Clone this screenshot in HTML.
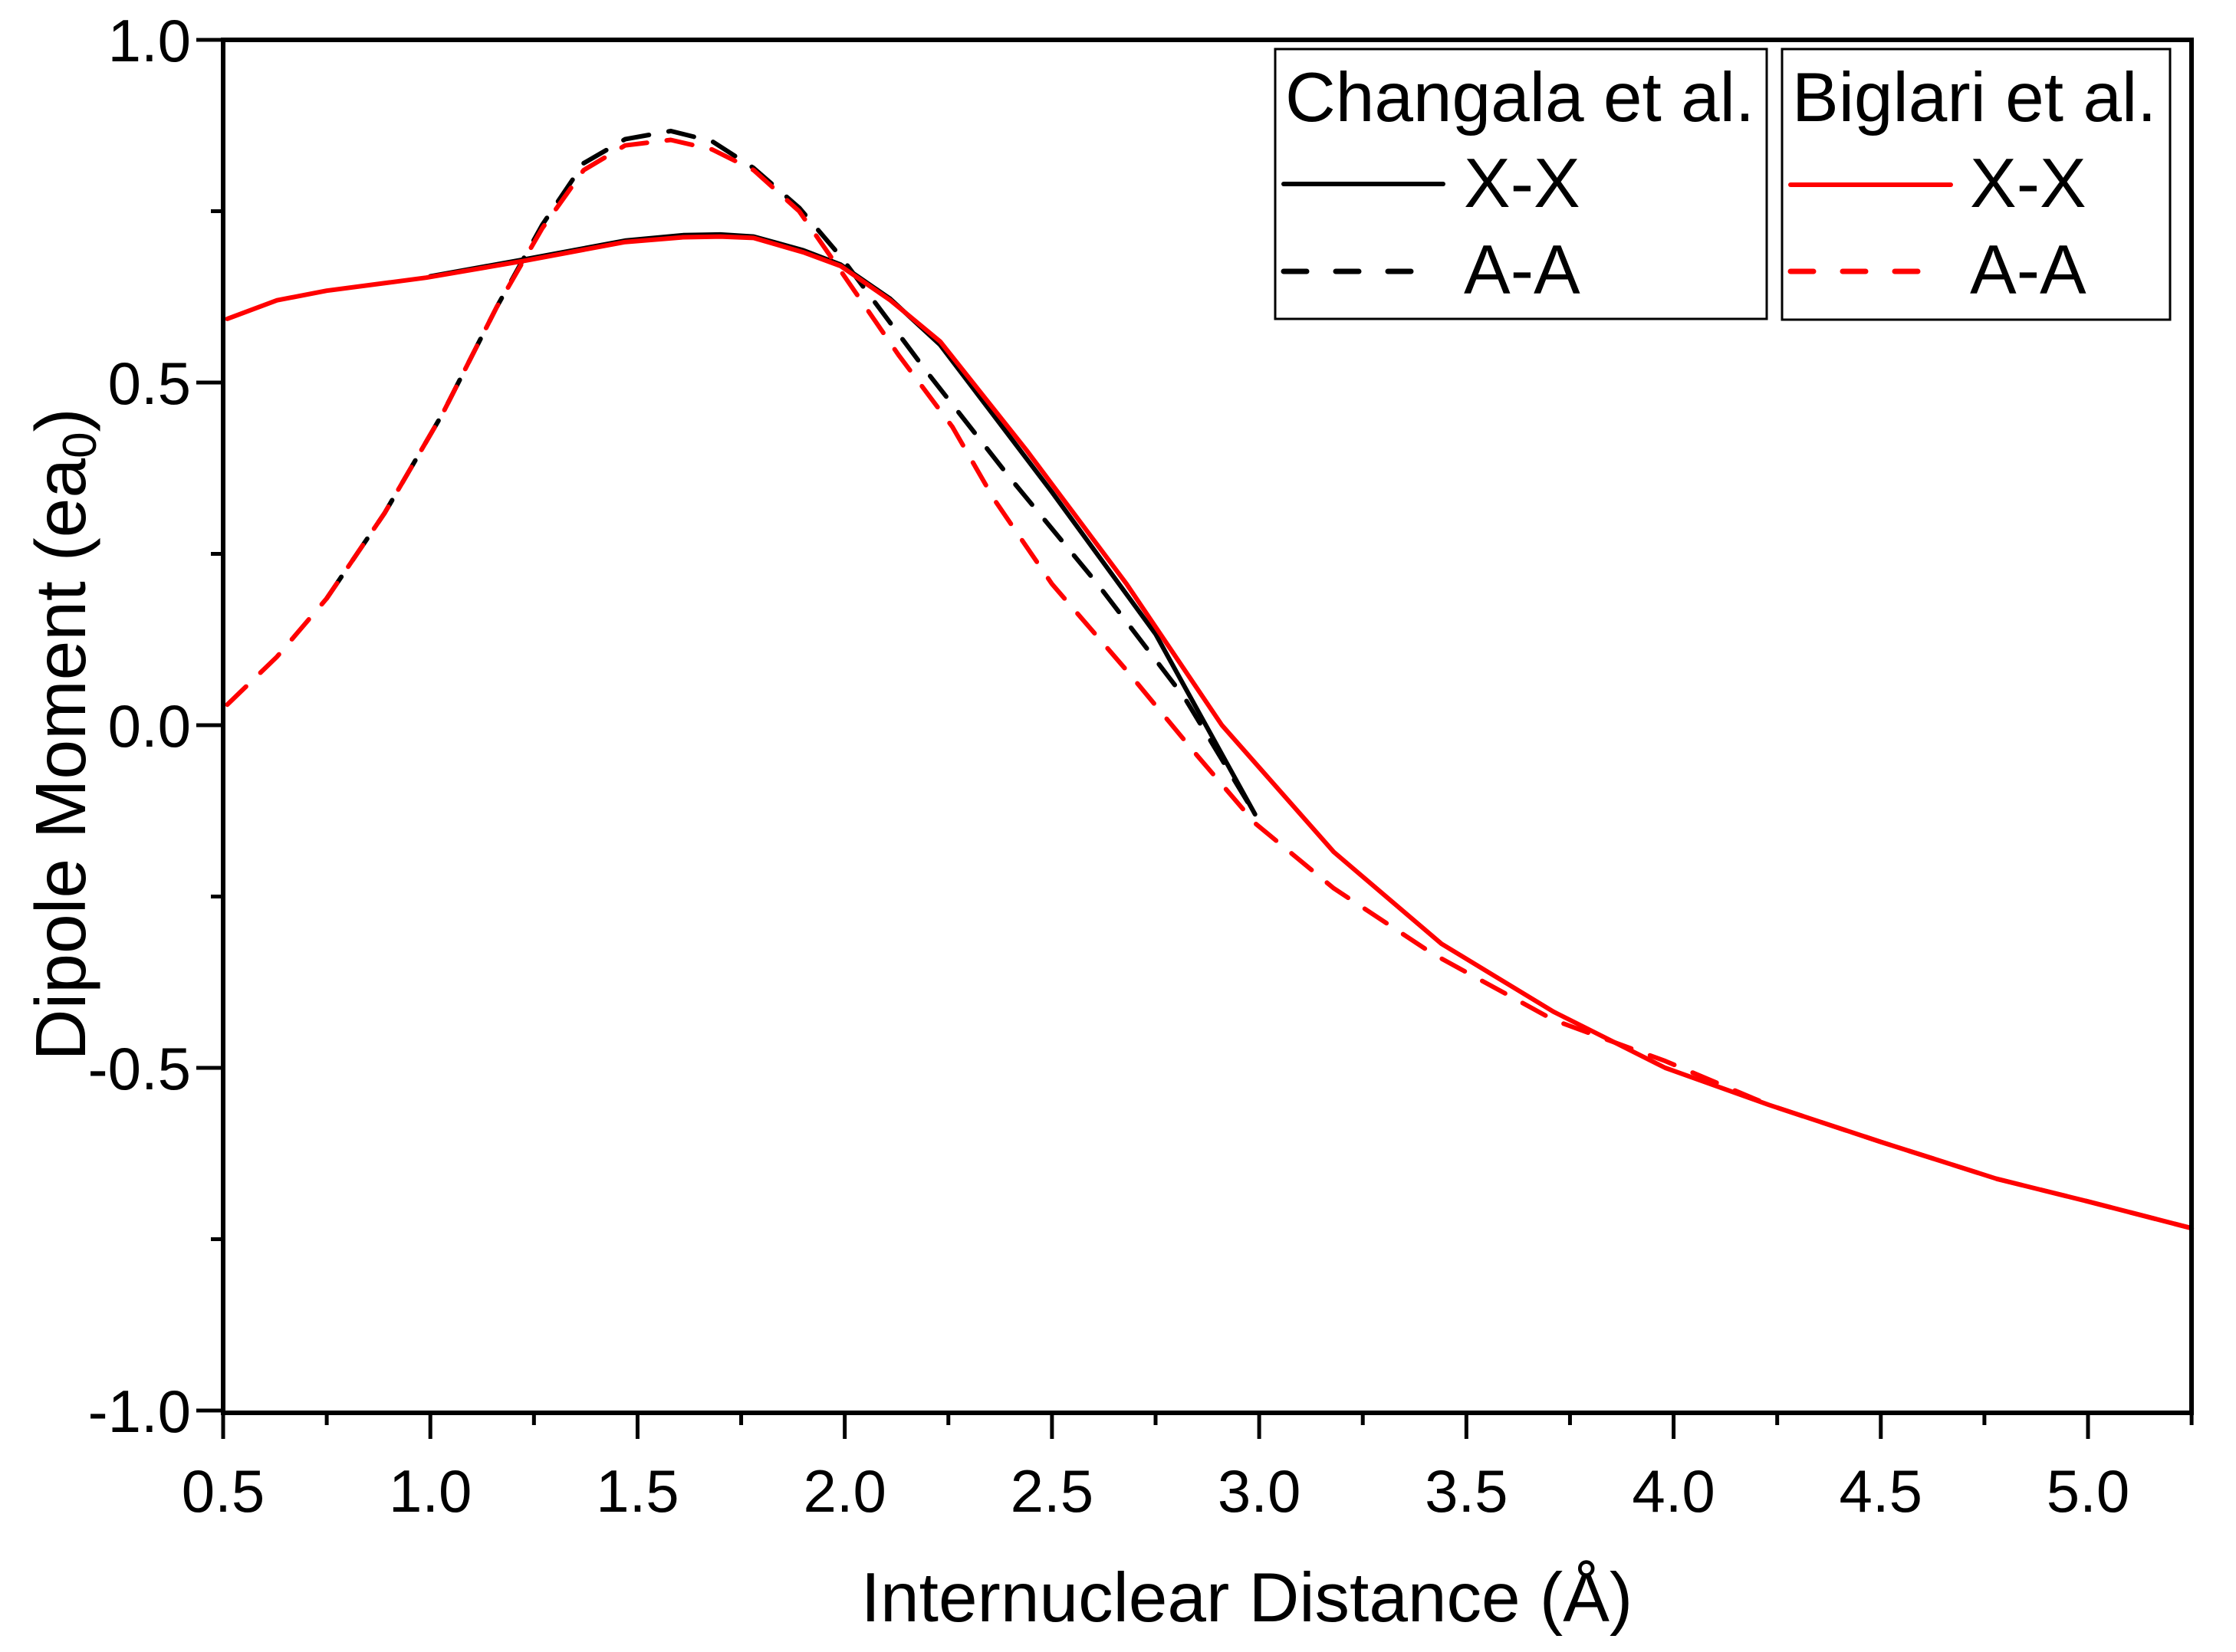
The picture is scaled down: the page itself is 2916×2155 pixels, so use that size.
<!DOCTYPE html>
<html><head><meta charset="utf-8"><style>
html,body{margin:0;padding:0;background:#fff;}
svg{display:block;font-family:"Liberation Sans",Arial,sans-serif;}
</style></head><body>
<svg id="chart" width="2916" height="2155" viewBox="0 0 2916 2155" xmlns="http://www.w3.org/2000/svg">
<g id="plot"></g>
<g id="axes"></g>
<text x="1626" y="2115" font-size="91" text-anchor="middle">Internuclear Distance (Å)</text>
<text transform="translate(111,958) rotate(-90)" font-size="93" text-anchor="middle">Dipole Moment (ea<tspan font-size="62" dy="14">0</tspan><tspan dy="-14">)</tspan></text>
<g>
<rect x="1663" y="64" width="641" height="352" fill="#fff" stroke="#000" stroke-width="3"/>
<text x="1676" y="158" font-size="91">Changala et al.</text>
<line x1="1674" y1="240" x2="1882" y2="240" stroke="#000" stroke-width="6" stroke-linecap="round"/>
<text x="1909" y="270" font-size="91">X-X</text>
<line x1="1674" y1="354" x2="1850" y2="354" stroke="#000" stroke-width="7" stroke-dasharray="30 38" stroke-linecap="round"/>
<text x="1909" y="383" font-size="91">A-A</text>
</g>
<g>
<rect x="2324" y="64" width="506" height="353" fill="#fff" stroke="#000" stroke-width="3"/>
<text x="2337" y="158" font-size="91">Biglari et al.</text>
<line x1="2335" y1="241" x2="2544" y2="241" stroke="#ff0000" stroke-width="6" stroke-linecap="round"/>
<text x="2569" y="270" font-size="91">X-X</text>
<line x1="2335" y1="354" x2="2511" y2="354" stroke="#ff0000" stroke-width="7" stroke-dasharray="30 38" stroke-linecap="round"/>
<text x="2569" y="383" font-size="91">A-A</text>
</g>
</svg>
<script>
const xTicks = [0.5,1.0,1.5,2.0,2.5,3.0,3.5,4.0,4.5,5.0];
const yTicks = [-1.0,-0.5,0.0,0.5,1.0];
const bigXX_x = [0.51,0.63,0.75,0.99,1.23,1.47,1.61,1.70,1.78,1.90,1.99,2.11,2.23,2.44,2.68,2.91,3.18,3.44,3.71,3.98,4.23,4.50,4.78,5.0,5.25];
const bigXX_y = [0.593,0.62,0.634,0.653,0.678,0.705,0.712,0.713,0.711,0.69,0.67,0.62,0.56,0.40,0.206,0.0,-0.185,-0.319,-0.418,-0.50,-0.554,-0.608,-0.662,-0.695,-0.734];
const bigAA_x = [0.51,0.63,0.75,0.89,1.03,1.16,1.27,1.37,1.47,1.58,1.68,1.78,1.89,1.99,2.13,2.26,2.36,2.50,2.68,2.85,2.99,3.18,3.42,3.71,3.98,4.23,4.50,4.78,5.0,5.25];
const bigAA_y = [0.03,0.10,0.185,0.31,0.455,0.61,0.725,0.81,0.846,0.854,0.84,0.81,0.75,0.663,0.54,0.435,0.33,0.206,0.08,-0.044,-0.143,-0.238,-0.334,-0.43,-0.49,-0.554,-0.608,-0.662,-0.695,-0.734];
const chgXX_x = [1.0,1.23,1.47,1.61,1.70,1.78,1.90,1.99,2.11,2.23,2.50,2.75,2.99];
const chgXX_y = [0.655,0.68,0.707,0.715,0.716,0.713,0.693,0.672,0.622,0.555,0.34,0.133,-0.13];
const chgAA_x = [0.75,0.89,1.03,1.16,1.27,1.37,1.47,1.58,1.68,1.78,1.89,1.99,2.20,2.40,2.61,2.82,2.99];
const chgAA_y = [0.185,0.31,0.455,0.61,0.73,0.82,0.855,0.867,0.852,0.813,0.755,0.684,0.514,0.36,0.206,0.04,-0.13];

const X0=291, X1=2858, Y0=52, Y1=1843;
function sx(v){return X0+(v-0.5)*(2723-291)/4.5;}
function sy(v){return 946-v*(946-52);}
const NS="http://www.w3.org/2000/svg";
const plot=document.getElementById('plot'), axes=document.getElementById('axes');
function mk(tag,attrs,parent){const e=document.createElementNS(NS,tag);for(const k in attrs)e.setAttribute(k,attrs[k]);parent.appendChild(e);return e;}

function series(xs,ys,color,dash,name){
  let d='';
  for(let i=0;i<xs.length;i++){d+=(i?'L':'M')+sx(xs[i]).toFixed(1)+','+sy(ys[i]).toFixed(1);}
  const p=mk('path',{d:d,fill:'none',stroke:color,'stroke-width':6,'stroke-linejoin':'round','stroke-linecap':'round'},plot);
  if(dash)p.setAttribute('stroke-dasharray','34 26');
  
  
}
series(chgXX_x,chgXX_y,'#000',false,'changala-xx-line');
series(chgAA_x,chgAA_y,'#000',true,'changala-aa-line');
series(bigXX_x,bigXX_y,'#ff0000',false,'biglari-xx-line');
series(bigAA_x,bigAA_y,'#ff0000',true,'biglari-aa-line');

const frame=mk('rect',{x:X0,y:Y0,width:X1-X0,height:Y1-Y0,fill:'none',stroke:'#000','stroke-width':6},axes);



xTicks.forEach(v=>{
  const x=sx(v);
  const t=mk('line',{x1:x,y1:Y1,x2:x,y2:Y1+34,stroke:'#000','stroke-width':5},axes);
  
  
  const m=mk('line',{x1:sx(v+0.25),y1:Y1,x2:sx(v+0.25),y2:Y1+16,stroke:'#000','stroke-width':5},axes);
  
  
  const l=mk('text',{x:x,y:1972,'font-size':78,'text-anchor':'middle'},axes);
  l.textContent=v.toFixed(1);
  
  
});
yTicks.forEach(v=>{
  const y=sy(v);
  const t=mk('line',{x1:X0-35,y1:y,x2:X0,y2:y,stroke:'#000','stroke-width':5},axes);
  
  
  if(v<1){
    const m=mk('line',{x1:X0-16,y1:sy(v+0.25),x2:X0,y2:sy(v+0.25),stroke:'#000','stroke-width':5},axes);
    
    
  }
  const l=mk('text',{x:249,y:y+28,'font-size':78,'text-anchor':'end'},axes);
  l.textContent=v.toFixed(1);
  
  
});
</script>
</body></html>
